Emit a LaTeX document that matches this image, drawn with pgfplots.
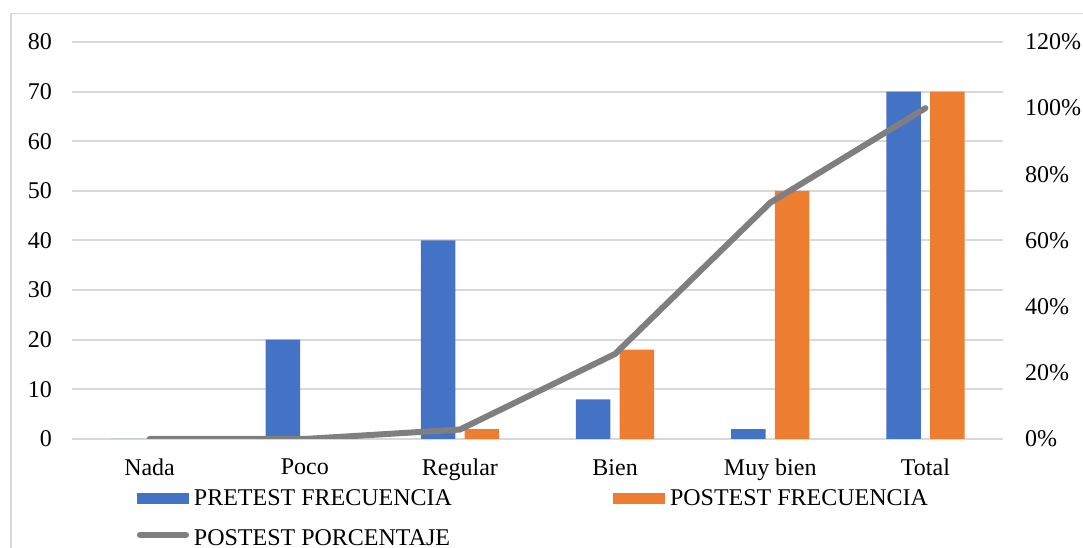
\documentclass[border=0pt]{standalone}
\usepackage{fontspec}
\setmainfont{Liberation Serif}
\usepackage{pgfplots}
\pgfplotsset{compat=1.18}
\definecolor{barblue}{HTML}{4472C4}
\definecolor{barorange}{HTML}{ED7D31}
\definecolor{linegray}{HTML}{7F7F7F}
\definecolor{gridgray}{HTML}{D9D9D9}
\pgfplotsset{/pgf/number format/assume math mode=true}
\begin{document}
\fontsize{24}{29}\selectfont
\begin{tikzpicture}
\useasboundingbox (0pt,0pt) rectangle (1083pt,548pt);
\draw[gridgray, line width=1.5pt] (11pt,-5pt) -- (11pt,534.5pt) -- (1090pt,534.5pt);
\begin{axis}[
 at={(72pt,109pt)}, anchor=south west,
 width=931pt, height=397pt, scale only axis,
 xmin=-0.5, xmax=5.5, ymin=0, ymax=80,
 xtick={0,...,5}, xticklabels={Nada,Poco,Regular,Bien,Muy bien,Total},
 ytick={0,10,...,80},
 axis line style={draw=none},
 major tick length=0pt,
 ymajorgrids, grid style={gridgray, line width=2pt},
 tick label style={font=\fontsize{24}{29}\selectfont},
 yticklabel style={inner sep=0pt, anchor=east, xshift=-20pt},
 xticklabel style={inner sep=0pt, anchor=north, yshift=-20pt},
 legend columns=2,
 legend cell align=left,
 legend style={at={(0.0698,-0.121)}, anchor=north west, draw=none, fill=none,
   inner sep=0pt, outer sep=0pt, column sep=5pt, row sep=16.5pt,
   nodes={inner sep=0pt, text height=18pt, text depth=6pt, font=\fontsize{24}{29}\selectfont},
   /tikz/every even column/.append style={column sep=161pt}},
]
\addplot[ybar, bar width=0.222, bar shift=-0.141, fill=barblue, draw=none,
  legend image code/.code={\fill[barblue] (0pt,-4.5pt) rectangle (52pt,6.5pt);}]
  coordinates {(0,0) (1,20) (2,40) (3,8) (4,2) (5,70)};
\addlegendentry{PRETEST FRECUENCIA}
\addplot[ybar, bar width=0.222, bar shift=0.141, fill=barorange, draw=none,
  legend image code/.code={\fill[barorange] (0pt,-4.5pt) rectangle (52pt,6.5pt);}]
  coordinates {(0,0) (1,0) (2,2) (3,18) (4,50) (5,70)};
\addlegendentry{POSTEST FRECUENCIA}
\addlegendimage{legend image code/.code={\draw[linegray, line width=6pt, line cap=round] (3pt,4.5pt) -- (49pt,4.5pt);}}
\addlegendentry{POSTEST PORCENTAJE}
\end{axis}
\begin{axis}[
 at={(72pt,109pt)}, anchor=south west,
 width=931pt, height=397pt, scale only axis,
 xmin=-0.5, xmax=5.5, ymin=0, ymax=120,
 ytick={0,20,...,120},
 hide x axis,
 axis y line*=right,
 axis line style={draw=none},
 major tick length=0pt,
 tick label style={font=\fontsize{24}{29}\selectfont},
 yticklabel={\pgfmathprintnumber{\tick}\%},
 yticklabel style={inner sep=0pt, anchor=west, xshift=22pt},
]
\addplot[linegray, line width=6pt, line cap=round, line join=round]
  coordinates {(0,0) (1,0) (2,2.857) (3,25.71) (4,71.43) (5,100)};
\end{axis}
\end{tikzpicture}
\end{document}
